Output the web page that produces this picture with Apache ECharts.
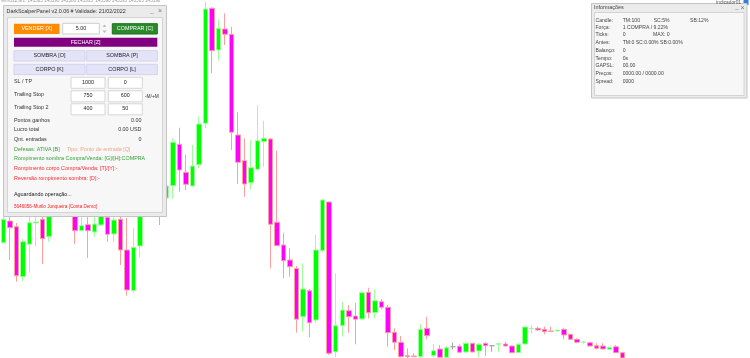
<!DOCTYPE html>
<html><head><meta charset="utf-8">
<script src="https://cdn.jsdelivr.net/npm/echarts@6/dist/echarts.min.js"></script>
<style>html,body{margin:0;padding:0;background:#fff}#c{width:750px;height:358px}</style>
</head><body><div id="c"></div>
<script>
// Candle values (price units)
const opens = [115.3,137,131.3,81.3,113.7,135,138.7,121.3,168,154,158,146,127.3,133.3,126,133,140.7,124,138.7,108,67.3,112,158,148,158,160,172.3,213.7,185.7,172,193.3,234.7,349.7,308,329,323.7,223,197.3,175.3,188.7,216.3,219,135.7,113,98,89.5,41.3,67.3,38,107.3,156,6.3,32.3,47.3,42,39,65.7,45.3,56.3,50.7,25.7,15.7,2.3,2,1.3,29.7,2.3,9,0.7,11.3,11.7,6,14.7,7,14.7,12.3,13.7,14,12,5.3,14,29.3,29.7,28.7,27,27,28.7,23.7,18.7,15.7,15.3,12.3,12,8.7,11.3,5.3];
const closes = [138.7,130.3,82.3,116.3,135.3,136,119.3,146,153,170,148,127.3,132.3,127.3,134,144,123.7,138,108,68,110.7,148,146,162,144,172,215.7,188,173.7,192,234,349,307.3,329.7,323.7,225.7,195.7,174,190.3,217.3,219.7,133.7,112.3,97.3,91.3,38.8,69,35.3,108,158,4.7,32.3,48,41.3,38.7,65.3,45.3,57.3,50.7,25.3,15.7,1.3,1.3,1.3,28.7,22.3,7.3,0.7,10.3,11.3,5.7,14.7,6,13.7,12.3,12.3,14.3,12,5.3,13.7,31,29.7,28,26.3,26.7,28,23,18.7,15.7,16,12,9.7,9,10.7,5.3,0];
const lows = [115,98,76.3,77,85.3,111.3,94,116.3,146,148,144,114,127,100,121.3,132,116.3,116.3,93,62.3,65.3,100.7,143,144,133,158,159,166.3,168,171.3,189.7,229.7,284.7,297.3,313,208,174,161.3,168.7,188.7,191.3,89.7,112.3,79.7,81.3,25.3,26.3,20.7,34.7,106.3,3,0.7,21.3,25.3,13.7,38.7,39.7,39.7,48.7,11.3,8,0.7,0,1,1,18.7,0.7,0.5,0.5,8.5,5.5,5,5.7,0.7,2,6.3,6.3,11.3,5.3,5.3,14,24.7,27,23.7,26.3,26.7,18.7,18,14.7,14.3,11.7,8.7,8.7,8.5,5.3,0];
const highs = [188,146,135,119,144,146,148,153,173,178,163,153,141.3,141.3,143,148,146,146,145,140,130.3,153,163,168,163,174,219.7,230.3,203,213,241.3,356.3,350.7,338.7,344.7,331.3,245.7,219.7,218,252.7,237.3,220,207.3,125.3,109.7,92,94.7,69,123,158.7,156.3,84.7,56.3,53,55.3,66.3,70.3,68.7,59,53,29.7,22,9.7,4.7,34,41.3,14,13,12,15.5,13.7,15.3,15,15.3,15.7,12.5,14.7,16.3,12.7,14.7,31.3,33,31.3,31.3,31.3,28.5,29.7,24,19.7,17,16.3,14.7,14.7,11,13,5.5];
const SLOTS = 115;
const categories = [];
for (let i = 0; i < SLOTS; i++) { const m = 540 + i; categories.push(String(Math.floor(m/60)).padStart(2,'0') + ':' + String(m%60).padStart(2,'0')); }

// Panel texts
const panelTitle = 'DarkScalperPanel v2.0.06 # Validade: 21/02/2022';
const buttonLabels = ['VENDER [X]','5.00','COMPRAR [C]','FECHAR [Z]','SOMBRA [O]','SOMBRA [P]','CORPO [K]','CORPO [L]'];
const inputRows = [['SL / TP','1000','0'],['Trailing Stop','750','600'],['Trailing Stop 2','400','50']];
const statRows = [['Pontos ganhos','0.00'],['Lucro total','0.00 USD'],['Qnt. entradas','0']];
const statusLines = ['Defesas: ATIVA [B]','Tipo: Ponto de entrada [Q]','Rompimento sombra Compra/Venda: [G]/[H]:COMPRA','Rompimento corpo Compra/Venda: [T]/[Y]:-','Reversão rompimento sombra: [D]:-','Aguardando operação...','5646056-Murilo Junqueira [Conta Demo]'];
const infoTitle = 'Informações';
const infoLabels = ['Candle:','Força:','Ticks:','Antes:','Balanço:','Tempo:','GAPSL:','Preços:','Spread:'];
const infoValues = [['TM:100','SC:5%','SB:12%'],['1 COMPRA / 9.22%'],['0','MAX: 0'],['TM:0 SC:0.00% SB:0.00%'],['0'],['0s'],['00.00'],['0000.00 / 0000.00'],['0000']];

const FF = 'Liberation Sans';
const FS = 5.4;
const data = opens.map((o,i)=>[o, closes[i], lows[i], highs[i]]);

const G = [];
function rect(x,y,w,h,fill,stroke,lw){G.push({type:'rect',z:100,shape:{x,y,width:w,height:h},style:{fill,stroke:stroke||null,lineWidth:lw||1}});}
function txt(x,y,t,color,size,align,weight){G.push({type:'text',z:101,x,y,style:{text:t,fill:color||'#333',font:(weight||'normal')+' '+(size||FS)+'px "'+FF+'"',textAlign:align||'left',textVerticalAlign:'middle'}});}

// top-left status text & top-right indicator
txt(1,1.2,'WINJ22,M1: 143585 143590 143580 143585  143590 143595 143585 143590','#999',4.6,'left');
txt(741,2.5,'indicador01','#555',4.8,'right');
rect(743.5,0,5,5,'#3a7bd5');

// Main panel
rect(3.5,5.5,163,211,'#ebebeb','#c4c4c4',1);
rect(7.5,17.5,155,195,'#f7f7f7','#d4d4d4',1);
txt(6.5,11.5,panelTitle,'#333',FS);
txt(152,11,'_','#777',6,'center');
txt(160,11.5,'×','#777',7,'center');
// buttons
rect(14,23.7,45.5,10.3,'#ff8c00'); txt(36.7,29,buttonLabels[0],'#fff',FS,'center');
rect(62.7,23.3,36.6,10.7,'#ffffff','#cfcfcf'); txt(81,29,buttonLabels[1],'#222',FS,'center');
G.push({type:'polygon',z:101,shape:{points:[[102.5,27],[104.5,24.5],[106.5,27]]},style:{fill:'#bbb'}});
G.push({type:'polygon',z:101,shape:{points:[[102.5,30.5],[104.5,33],[106.5,30.5]]},style:{fill:'#bbb'}});
rect(112.3,23.7,45,10.3,'#2a8a2a','#1e6e1e'); txt(134.8,29,buttonLabels[2],'#fff',FS,'center');
rect(14,37.7,143.3,9,'#800080'); txt(85.6,42.3,buttonLabels[3],'#fff',FS,'center');
rect(14,50.7,71,10.3,'#e4e4f8','#d2d2ec'); txt(49.5,56,buttonLabels[4],'#222',FS,'center');
rect(86.7,50.7,70.6,10.3,'#e4e4f8','#d2d2ec'); txt(122,56,buttonLabels[5],'#222',FS,'center');
rect(14,64.3,71,10.3,'#e4e4f8','#d2d2ec'); txt(49.5,69.5,buttonLabels[6],'#222',FS,'center');
rect(86.7,64.3,70.6,10.3,'#e4e4f8','#d2d2ec'); txt(122,69.5,buttonLabels[7],'#222',FS,'center');
// input rows
const rowY = [82.5,96,109];
inputRows.forEach((r,i)=>{
  const y = rowY[i];
  txt(14,y-1,r[0],'#333',FS);
  rect(71,y-5.2,34,11,'#ffffff','#d6d6d6'); txt(88,y,r[1],'#222',FS,'center');
  rect(108.3,y-5.2,34,11,'#ffffff','#d6d6d6'); txt(125.3,y,r[2],'#222',FS,'center');
});
txt(145,97,'-M/+M','#333',4.8,'left');
// stats
const statY=[120.5,130,139.7];
statRows.forEach((r,i)=>{ txt(14,statY[i],r[0],'#333',FS); txt(141.5,statY[i],r[1],'#333',FS,'right'); });
txt(14,149.3,statusLines[0],'#38a038',FS);
txt(67,149.3,statusLines[1],'#f2a68a',FS);
txt(14,159,statusLines[2],'#38a038',FS);
txt(14,169,statusLines[3],'#ff2a2a',FS);
txt(14,178.7,statusLines[4],'#ff2a2a',FS);
txt(14,194.7,statusLines[5],'#222',FS);
txt(14,206.7,statusLines[6],'#ff2020',4.6);

// Info panel
rect(591.5,3.5,155.5,94.5,'#ebebeb','#c4c4c4',1);
rect(594.5,12.5,149.5,83,'#f7f7f7','#d4d4d4',1);
txt(594,7.6,infoTitle,'#444',FS);
txt(737,7,'_','#777',6,'center');
txt(742.5,7.6,'×','#777',7,'center');
const infoY=[20.7,27.5,35,42.7,50.7,58.3,66,74,81.3];
const colX=[[622.7,653.7,690],[622.7],[622.7,653],[622.7],[622.7],[622.7],[622.7],[622.7],[622.7]];
infoLabels.forEach((l,i)=>{
  txt(595.5,infoY[i],l,'#444',5.1);
  infoValues[i].forEach((v,j)=>txt(colX[i][j],infoY[i],v,'#444',5.1));
});

const chart = echarts.init(document.getElementById('c'),null,{renderer:'canvas'});
chart.setOption({
  animation:false,
  backgroundColor:'#ffffff',
  grid:{left:-1.27,top:0,width:751,height:358,containLabel:false},
  xAxis:{type:'category',data:categories,boundaryGap:true,show:false},
  yAxis:{type:'value',min:0,max:358,show:false,splitLine:{show:false}},
  series:[{
    type:'candlestick',
    data:data,
    barWidth:5,
    barMinWidth:5,
    clip:true,
    itemStyle:{color:'#00ff00',color0:'#ff00ff',borderColor:'#9cff9c',borderColor0:'#ff9e9e',borderColorDoji:'#a8a8a8',borderWidth:1}
  }],
  graphic:G
});
</script></body></html>
